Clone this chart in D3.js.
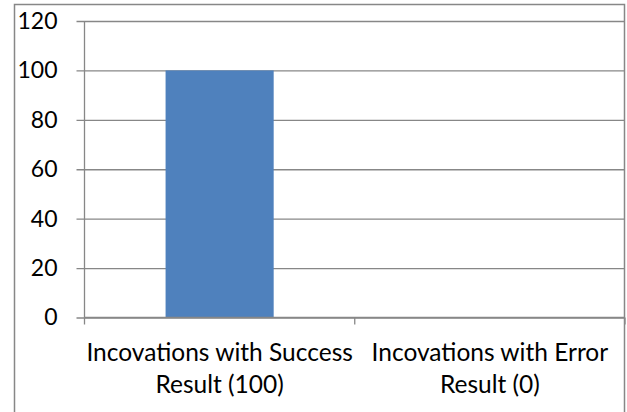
<!DOCTYPE html>
<html>
<head>
<meta charset="utf-8">
<script src="https://cdn.jsdelivr.net/npm/d3@7/dist/d3.min.js"></script>
<style>
  html, body { margin: 0; padding: 0; background: #fff; }
  svg { display: block; }
  text { font-family: Lato, "Open Sans", sans-serif; fill: #000; }
</style>
</head>
<body>
<svg id="chart" width="627" height="412"></svg>
<script>
// Invocation counts by outcome
const categories = ["Incovations with Success Result (100)", "Incovations with Error Result (0)"];
const labelLines = [["Incovations with Success", "Result (100)"], ["Incovations with Error", "Result (0)"]];
const values = [100, 0];
const yTicks = [0, 20, 40, 60, 80, 100, 120];

const W = 627, H = 412;
const margin = { top: 21, right: 2, bottom: 94.5, left: 84.5 };
const innerW = W - margin.left - margin.right;
const innerH = H - margin.top - margin.bottom;
const gridColor = "#878787";

const svg = d3.select("#chart");

// outer frame of the chart object
svg.append("rect")
  .attr("x", 14.5).attr("y", 4.5)
  .attr("width", 610).attr("height", 420)
  .attr("fill", "none").attr("stroke", gridColor).attr("stroke-width", 1.5);

const g = svg.append("g").attr("transform", `translate(${margin.left},${margin.top})`);

const x = d3.scaleBand().domain(categories).range([0, innerW]).paddingInner(0).paddingOuter(0);
const y = d3.scaleLinear().domain([0, 120]).range([innerH, 0]);

// value axis with gridlines
const yAxis = g.append("g")
  .call(d3.axisLeft(y).tickValues(yTicks).tickSize(-innerW).tickSizeOuter(0).tickPadding(27));
yAxis.select(".domain").remove();
yAxis.selectAll(".tick line")
  .attr("x1", -8).attr("x2", innerW)
  .attr("stroke", gridColor).attr("stroke-width", 1.3);
yAxis.selectAll(".tick text")
  .attr("font-family", "Lato, sans-serif")
  .attr("font-size", 23)
  .attr("fill", "#000");

// bars
const barW = x.bandwidth() / 2.5;
g.selectAll("rect.bar")
  .data(values)
  .join("rect")
  .attr("class", "bar")
  .attr("x", (d, i) => x(categories[i]) + (x.bandwidth() - barW) / 2)
  .attr("width", barW)
  .attr("y", d => y(d))
  .attr("height", d => y(0) - y(d))
  .attr("fill", "#4F81BD");

// vertical axis line
g.append("line")
  .attr("x1", 0).attr("x2", 0).attr("y1", 0).attr("y2", innerH)
  .attr("stroke", gridColor).attr("stroke-width", 1.3);

// category axis line and boundary ticks
g.append("line")
  .attr("x1", 0).attr("x2", innerW).attr("y1", innerH).attr("y2", innerH)
  .attr("stroke", gridColor).attr("stroke-width", 1.3);
const bounds = categories.map(c => x(c)).concat([x(categories[categories.length - 1]) + x.bandwidth()]);
g.selectAll("line.xtick")
  .data(bounds)
  .join("line")
  .attr("class", "xtick")
  .attr("x1", d => d).attr("x2", d => d)
  .attr("y1", innerH).attr("y2", innerH + 7)
  .attr("stroke", gridColor).attr("stroke-width", 1.3);

// category labels, wrapped onto two lines
const labels = g.selectAll("text.cat")
  .data(categories)
  .join("text")
  .attr("class", "cat")
  .attr("text-anchor", "middle")
  .attr("font-size", 24.5)
  .attr("transform", d => `translate(${x(d) + x.bandwidth() / 2},${innerH + 43})`);
labels.each(function(d, i) {
  const t = d3.select(this);
  labelLines[i].forEach((line, j) => {
    t.append("tspan").attr("x", 0).attr("y", j * 32.6).text(line);
  });
});
</script>
</body>
</html>
